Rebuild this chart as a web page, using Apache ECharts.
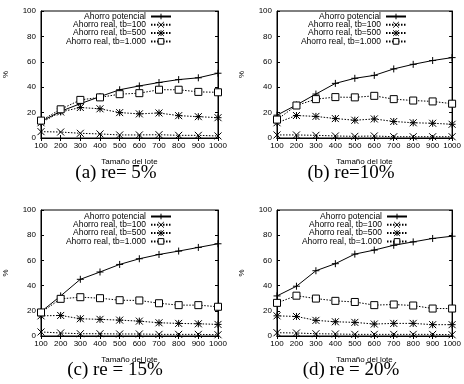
<!DOCTYPE html>
<html>
<head>
<meta charset="utf-8">
<script src="https://cdn.jsdelivr.net/npm/echarts@6/dist/echarts.min.js"></script>
<style>
  html, body { margin: 0; padding: 0; background: #fff; }
  #chart { width: 464px; height: 384px; }
</style>
</head>
<body>
<div id="chart"></div>
<script>
// tamaño del lote (eje x)
const lotes = [100, 200, 300, 400, 500, 600, 700, 800, 900, 1000];

// (a) re = 5%
const potA    = [13, 21, 27, 32.6, 38, 41, 43.7, 46, 47.4, 51];
const tb100A  = [5, 4.7, 3.7, 3.2, 2.4, 2.4, 2.6, 2.1, 2.1, 1.6];
const tb500A  = [12, 20.5, 24, 23, 20, 19, 19.7, 17.6, 16.8, 16];
const tb1000A = [13.7, 22.6, 30, 32, 34.5, 35.3, 38, 38, 36.3, 36];

// (b) re = 10%
const potB    = [18, 26, 34.6, 43, 47, 49.3, 54.4, 58, 61, 63.3];
const tb100B  = [2.4, 2.4, 2.1, 1.6, 1.3, 1.6, 1, 1, 1, 1];
const tb500B  = [12, 17.7, 17, 15.3, 14, 15, 13, 12, 11.6, 10.8];
const tb1000B = [14.5, 25.6, 30.6, 32.2, 32, 33.2, 30.6, 29.5, 28.8, 27];

// (c) re = 15%
const potC    = [19.2, 31.8, 45, 50.8, 56.8, 61.3, 64.7, 67.4, 70.3, 73.2];
const tb100C  = [3.2, 2.4, 1.8, 1.8, 1.6, 1.6, 1.3, 1.3, 1.3, 1];
const tb500C  = [16, 16.3, 13.7, 13.2, 12.6, 11.8, 10.5, 10, 9.7, 9.2];
const tb1000C = [18.7, 29.5, 30.8, 30, 28.4, 28.2, 26, 24.5, 24.5, 23.2];

// (d) re = 20%
const potD    = [31.8, 39.5, 51.8, 57.4, 65, 68.2, 72, 74.7, 77.4, 79.2];
const tb100D  = [2.6, 2.4, 1.8, 1.6, 1.3, 1.3, 1.3, 1.3, 1.3, 1];
const tb500D  = [16, 15.5, 12.4, 11.3, 10.8, 9.5, 10, 10, 9, 9];
const tb1000D = [26.3, 32, 29.7, 27.9, 27, 24.5, 25, 24.2, 21.8, 21.8];

const names = ['Ahorro potencial', 'Ahorro real, tb=100', 'Ahorro real, tb=500', 'Ahorro real, tb=1.000'];
const captions = ['(a) re= 5%', '(b) re=10%', '(c) re = 15%', '(d) re = 20%'];
const panels = [
  [potA, tb100A, tb500A, tb1000A],
  [potB, tb100B, tb500B, tb1000B],
  [potC, tb100C, tb500C, tb1000C],
  [potD, tb100D, tb500D, tb1000D]
];

const symbols = [
  'path://M0,5L10,5M5,0L5,10',
  'path://M0,0L10,10M10,0L0,10',
  'path://M0,0L10,10M10,0L0,10M5,0L5,10M0,5L10,5',
  'rect'
];

// layout of the four plots
const boxes = [
  {left: 41, top: 11, width: 177, height: 127, legRight: 292, legTop: 16, capX: 116, capY: 173},
  {left: 277, top: 11, width: 178, height: 127, legRight: 57, legTop: 16, capX: 351, capY: 173},
  {left: 41, top: 210, width: 177, height: 126, legRight: 292, legTop: 216, capX: 115, capY: 370},
  {left: 277, top: 210, width: 178, height: 126, legRight: 56, legTop: 216, capX: 351, capY: 370}
];

const font = 'Liberation Sans';
const grid = [], xAxis = [], yAxis = [], series = [], legend = [], graphic = [];

boxes.forEach((b, i) => {
  grid.push({left: b.left, top: b.top, width: b.width, height: b.height,
    show: true, borderColor: '#000', borderWidth: 1, backgroundColor: 'transparent'});

  xAxis.push({
    gridIndex: i, type: 'value', min: 100, max: 1000, interval: 100,
    name: 'Tamaño del lote', nameLocation: 'middle', nameGap: 20,
    nameTextStyle: {fontFamily: font, fontSize: 8, color: '#000'},
    axisLine: {lineStyle: {color: '#000'}},
    axisTick: {inside: true, length: 3, lineStyle: {color: '#000'}},
    axisLabel: {fontFamily: font, fontSize: 8, color: '#000', margin: 4,
      formatter: v => String(v)},
    splitLine: {show: false}
  });
  xAxis.push({
    gridIndex: i, type: 'value', position: 'top', min: 100, max: 1000, interval: 100,
    axisLine: {lineStyle: {color: '#000'}},
    axisTick: {inside: true, length: 3, lineStyle: {color: '#000'}},
    axisLabel: {show: false}, splitLine: {show: false}
  });
  yAxis.push({
    gridIndex: i, type: 'value', min: 0, max: 100, interval: 20,
    name: '%', nameLocation: 'middle', nameGap: 31, nameRotate: 90,
    nameTextStyle: {fontFamily: font, fontSize: 8, color: '#000'},
    axisLine: {show: true, lineStyle: {color: '#000'}},
    axisTick: {show: true, inside: true, length: 3, lineStyle: {color: '#000'}},
    axisLabel: {fontFamily: font, fontSize: 8, color: '#000', margin: 5},
    splitLine: {show: false}
  });
  yAxis.push({
    gridIndex: i, type: 'value', position: 'right', min: 0, max: 100, interval: 20,
    axisLine: {show: true, lineStyle: {color: '#000'}},
    axisTick: {show: true, inside: true, length: 3, lineStyle: {color: '#000'}},
    axisLabel: {show: false}, splitLine: {show: false}
  });

  panels[i].forEach((vals, k) => {
    const fill = k === 3 ? '#fff' : '#000';
    series.push({
      name: names[k], type: 'line',
      xAxisIndex: i * 2, yAxisIndex: i * 2,
      data: lotes.map((x, j) => [x, vals[j]]),
      symbol: symbols[k], symbolSize: 7,
      showAllSymbol: true,
      lineStyle: {color: '#000', width: 1, type: k === 0 ? 'solid' : [1.5, 1.5]},
      itemStyle: {color: fill, borderColor: '#000', borderWidth: 1},
      emphasis: {disabled: true},
      z: 3 + k
    });
    legend.push({
      data: [{name: names[k], itemStyle: {color: fill, borderColor: '#000', borderWidth: 1}}],
      orient: 'horizontal', align: 'right',
      right: b.legRight, top: b.legTop + k * 8.3 - 4,
      padding: 0, itemWidth: 20, itemHeight: 7, itemGap: 0,
      selectedMode: false,
      textStyle: {fontFamily: font, fontSize: 8.5, color: '#000', padding: [0, 0, 0, 0]}
    });
  });

  graphic.push({
    type: 'text', x: b.capX, y: b.capY,
    style: {text: captions[i], fontFamily: 'Liberation Serif', fontSize: 19,
      fill: '#000', align: 'center', verticalAlign: 'middle'}
  });
});

const chart = echarts.init(document.getElementById('chart'));
chart.setOption({
  animation: false,
  backgroundColor: '#fff',
  grid, xAxis, yAxis, series, legend, graphic
});
</script>
</body>
</html>
